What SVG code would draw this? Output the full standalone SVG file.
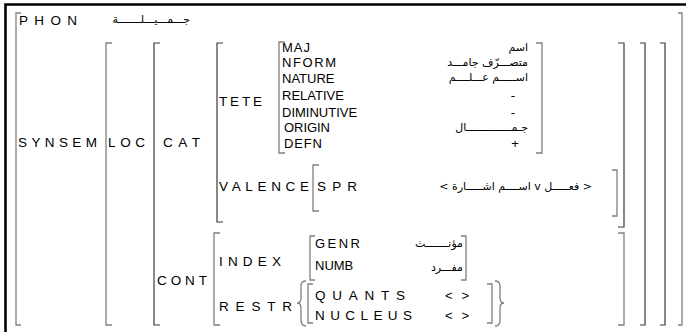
<svg xmlns="http://www.w3.org/2000/svg" width="686" height="332" viewBox="0 0 686 332">
<style>
  .t { font-family: "Liberation Sans", Arial, sans-serif; font-size: 13px; fill: #000; }
  .s { font-size: 13.5px; }
  .ar { font-family: "DejaVu Sans", "Noto Sans", sans-serif; font-size: 11px; fill: #000; }
  .b { fill: none; stroke: #808080; stroke-width: 1.3; }
  .bd { fill: none; stroke: #3a3a3a; stroke-width: 1.2; }
  .frame { fill: none; stroke: #000; stroke-width: 2.6; }
</style>
<rect width="686" height="332" fill="#fff"/>
<g id="frame">
  <path class="frame" d="M 5.5 332 V 4.5 H 686"/>
</g>
<g id="connectors">
  <path class="b" d="M 21 13 H 16 V 325 H 21"/>
  <path class="b" d="M 678 13 H 682 V 325 H 678"/>
  <path class="b" d="M 112 43 H 106 V 325 H 112"/>
  <path class="bd" d="M 660 43 H 665 V 325 H 660"/>
  <path class="bd" d="M 160 43 H 154 V 325 H 160"/>
  <path class="bd" d="M 640 43 H 645 V 325 H 640"/>
  <path class="bd" d="M 223 43 H 217 V 222 H 223"/>
  <path class="bd" d="M 618 43 H 624 V 227 H 618"/>
  <path class="b" d="M 285 42 H 279 V 153 H 285"/>
  <path class="b" d="M 536 43 H 542 V 153 H 536"/>
  <path class="b" d="M 319 165 H 313 V 211 H 319"/>
  <path class="b" d="M 612 170 H 617 V 216 H 612"/>
  <path class="b" d="M 220 233 H 214 V 325 H 220"/>
  <path class="b" d="M 618 233 H 624 V 325 H 618"/>
  <path class="b" d="M 315 236 H 310 V 280 H 315"/>
  <path class="b" d="M 461 236 H 466 V 280 H 461"/>
  <path class="b" d="M 306 281 Q 301 281 301 286 L 301 298 Q 301 303 297 303 Q 301 303 301 308 L 301 320 Q 301 326 306 326"/>
  <path class="b" d="M 313 284 H 308 V 323 H 313"/>
  <path class="b" d="M 487 284 H 492 V 323 H 487"/>
  <path class="b" d="M 495 281 Q 500 281 500 286 L 500 298 Q 500 303 504 303 Q 500 303 500 308 L 500 320 Q 500 326 495 326"/>
</g>
<g id="phon">
  <text class="t s" x="19" y="25" textLength="58" lengthAdjust="spacing">PHON</text>
  <text class="ar" x="190" y="23" text-anchor="end">جـــمـــيـــلـــــــة</text>
</g>
<g id="synsem">
  <text class="t s" x="18" y="147" textLength="79" lengthAdjust="spacing">SYNSEM</text>
</g>
<g id="loc">
  <text class="t s" x="108" y="147" textLength="37" lengthAdjust="spacing">LOC</text>
</g>
<g id="cat">
  <text class="t s" x="163" y="147" textLength="37" lengthAdjust="spacing">CAT</text>
</g>
<g id="tete">
  <text class="t s" x="219" y="106" textLength="43" lengthAdjust="spacing">TETE</text>
  <text class="t" x="282" y="52" textLength="28" lengthAdjust="spacing">MAJ</text>
  <text class="t" x="282" y="67" textLength="54" lengthAdjust="spacing">NFORM</text>
  <text class="t" x="282" y="83">NATURE</text>
  <text class="t" x="282" y="100">RELATIVE</text>
  <text class="t" x="282" y="117">DIMINUTIVE</text>
  <text class="t" x="284" y="132" textLength="46" lengthAdjust="spacing">ORIGIN</text>
  <text class="t" x="284" y="148" textLength="38" lengthAdjust="spacing">DEFN</text>
  <text class="ar" x="528" y="51" text-anchor="end">اسم</text>
  <text class="ar" x="528" y="66" text-anchor="end">متصـــرّف جامـــد</text>
  <text class="ar" x="528" y="81" text-anchor="end">اســـــم عـــلــــم</text>
  <text class="t" x="513" y="100" text-anchor="middle">-</text>
  <text class="t" x="513" y="117" text-anchor="middle">-</text>
  <text class="ar" x="528" y="131" text-anchor="end">جـمــــــــــــــال</text>
  <text class="t" x="515" y="148" text-anchor="middle">+</text>
</g>
<g id="valence">
  <text class="t s" x="219" y="191" textLength="90" lengthAdjust="spacing">VALENCE</text>
  <text class="t s" x="317" y="191" textLength="40" lengthAdjust="spacing">SPR</text>
  <text class="ar" x="592" y="190" text-anchor="end">&lt;  اســــم اشـــــارة  v  فعـــــل  &gt;</text>
</g>
<g id="cont">
  <text class="t s" x="157" y="285" textLength="50" lengthAdjust="spacing">CONT</text>
</g>
<g id="index">
  <text class="t s" x="219" y="266" textLength="62" lengthAdjust="spacing">INDEX</text>
  <text class="t" x="315" y="248" textLength="45" lengthAdjust="spacing">GENR</text>
  <text class="t" x="315" y="270">NUMB</text>
  <text class="ar" x="463" y="247" text-anchor="end">مؤنـــــــث</text>
  <text class="ar" x="463" y="271" text-anchor="end">مفـــرد</text>
</g>
<g id="restr">
  <text class="t s" x="219" y="311" textLength="73" lengthAdjust="spacing">RESTR</text>
  <text class="t s" x="315" y="300" textLength="90" lengthAdjust="spacing">QUANTS</text>
  <text class="t s" x="315" y="320" textLength="97" lengthAdjust="spacing">NUCLEUS</text>
  <text class="t" x="445" y="300" textLength="24" lengthAdjust="spacing">&lt;&gt;</text>
  <text class="t" x="445" y="320" textLength="24" lengthAdjust="spacing">&lt;&gt;</text>
</g>
</svg>
